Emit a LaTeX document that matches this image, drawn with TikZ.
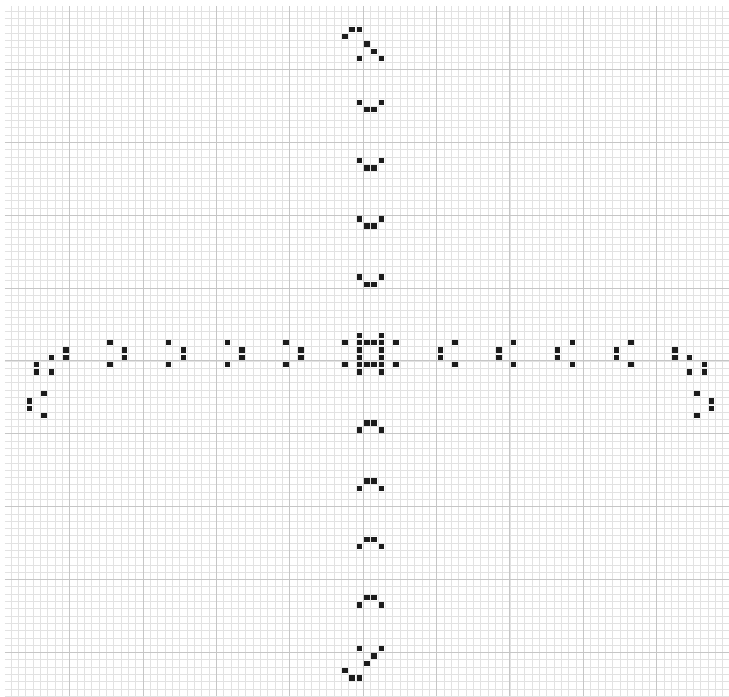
\documentclass[tikz,border=0pt]{standalone}
\usepackage{tikz}
\definecolor{lifegrid}{RGB}{226,226,226}
\definecolor{lifemajor}{RGB}{198,198,198}
\definecolor{lifeink}{RGB}{28,28,28}
\newcommand{\lifecell}[2]{\fill[lifeink]({#1+0.13},{-(#2)-0.87})rectangle({#1+0.87},{-(#2)-0.13});}

\begin{document}
\begin{tikzpicture}[x=0.2cm,y=0.1986cm]
  \useasboundingbox(-9.49,9.53)rectangle(89.85,-86.01);
  \fill[white](-9.49,9.53)rectangle(89.85,-86.01);
  \draw[lifegrid,line width=0.5pt,step=1](-8.81,8.70)grid(89.85,-86.01);
  \draw[lifemajor,line width=0.8pt,step=10](-8.81,8.70)grid(89.85,-86.01);
  % centre
  \foreach \i/\j in {39/36,42/36,37/37,39/37,40/37,41/37,42/37,44/37,39/38,42/38,
                     39/39,42/39,37/40,39/40,40/40,41/40,42/40,44/40,39/41,42/41}
    \lifecell{\i}{\j};
  % the four arms
  \foreach \k in {0,8,16,24} {
    \lifecell{39}{4+\k}\lifecell{42}{4+\k}\lifecell{40}{5+\k}\lifecell{41}{5+\k}
    \lifecell{40}{72-\k}\lifecell{41}{72-\k}\lifecell{39}{73-\k}\lifecell{42}{73-\k}
    \lifecell{5+\k}{37}\lifecell{7+\k}{38}\lifecell{7+\k}{39}\lifecell{5+\k}{40}
    \lifecell{76-\k}{37}\lifecell{74-\k}{38}\lifecell{74-\k}{39}\lifecell{76-\k}{40}
  }
  % ends
  \foreach \i/\j in {38/-6,39/-6,37/-5,40/-4,41/-3,39/-2,42/-2,
                     38/83,39/83,37/82,40/81,41/80,39/79,42/79}
    \lifecell{\i}{\j};
  \foreach \i/\j in {-1/38,-1/39,-3/39,-5/40,-5/41,-3/41,-4/44,-6/45,-6/46,-4/47,
                     82/38,82/39,84/39,86/40,86/41,84/41,85/44,87/45,87/46,85/47}
    \lifecell{\i}{\j};
\end{tikzpicture}
\end{document}
